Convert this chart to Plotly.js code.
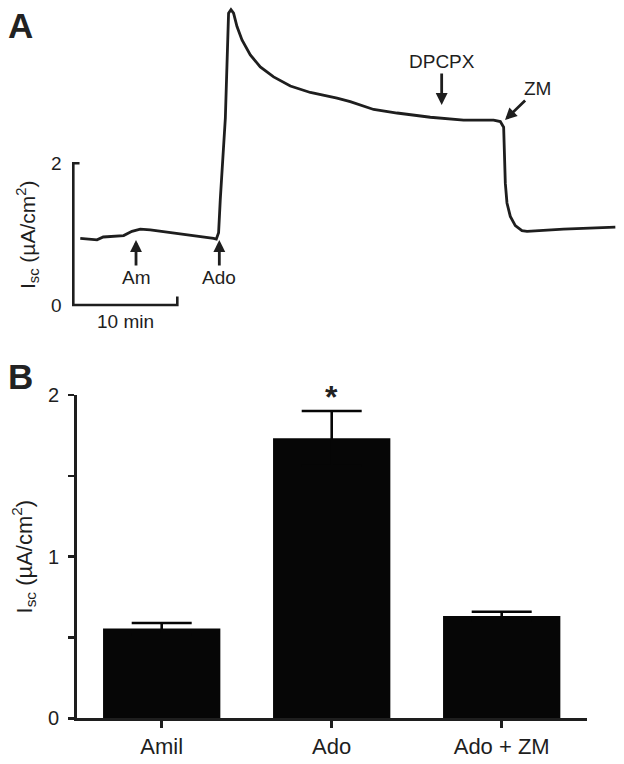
<!DOCTYPE html>
<html>
<head>
<meta charset="utf-8">
<script src="https://cdn.plot.ly/plotly-3.0.1.min.js"></script>
<style>
  html, body { margin: 0; padding: 0; background: #ffffff; }
  #chart { width: 624px; height: 764px; }
</style>
</head>
<body>
<div id="chart"></div>
<script>
// Panel A: Isc trace (minutes, uA/cm2)
const traceMinutes = [0.67, 1.63, 2.28, 2.88, 4.20, 4.84, 5.64, 6.44, 7.40, 9.01, 10.61, 12.21, 13.49, 13.75,
  13.97, 14.13, 14.45, 14.62, 14.93, 15.16, 15.41, 15.74, 16.22, 17.02, 17.98, 19.26, 20.87, 22.79,
  25.36, 26.63, 28.88, 31.13, 34.33, 37.53, 40.41, 41.06, 41.38, 41.44, 41.54, 41.70, 42.02, 42.50,
  43.14, 43.63, 47.14, 52.12];
const traceCurrent = [0.94, 0.93, 0.92, 0.96, 0.97, 0.98, 1.04, 1.07, 1.06, 1.03, 1.00, 0.97, 0.94, 0.93,
  1.02, 1.48, 2.19, 2.64, 4.12, 4.17, 4.12, 3.93, 3.74, 3.53, 3.36, 3.22, 3.09, 3.00,
  2.92, 2.87, 2.76, 2.71, 2.65, 2.61, 2.61, 2.59, 2.51, 2.19, 1.72, 1.44, 1.25, 1.12,
  1.05, 1.04, 1.07, 1.10];

// scale bar of panel A
const scaleMinutes = 10;
const scaleCurrent = 2;

// drug additions: label, time, current at arrow tip
const drugLabels = ['Am', 'Ado', 'DPCPX', 'ZM'];
const drugMinutes = [6.03, 14.04, 35.42, 41.51];
const drugCurrent = [0.917, 0.917, 2.823, 2.611];

// Panel B: mean Isc and SEM
const groups = ['Amil', 'Ado', 'Ado + ZM'];
const meanIsc = [0.555, 1.732, 0.633];
const semIsc = [0.035, 0.169, 0.026];

const W = 624, H = 764;
const px = x => x / W;
const py = y => 1 - y / H;

const ink = '#1e1e1e';
const barInk = '#060606';
const font = { family: '"Liberation Sans", Arial, sans-serif', color: ink };

const traces = [
  {
    x: traceMinutes, y: traceCurrent,
    xaxis: 'x', yaxis: 'y',
    type: 'scatter', mode: 'lines',
    line: { color: ink, width: 2.8 },
    hoverinfo: 'skip',
  },
  {
    // scale bar: small tick, vertical 2 uA/cm2, horizontal 10 min, small tick
    x: [scaleMinutes * 0.06, 0, 0, scaleMinutes, scaleMinutes],
    y: [scaleCurrent, scaleCurrent, 0, 0, scaleCurrent * 0.06],
    xaxis: 'x', yaxis: 'y',
    type: 'scatter', mode: 'lines',
    line: { color: ink, width: 2.6 },
    hoverinfo: 'skip',
  },
  {
    x: groups, y: meanIsc,
    xaxis: 'x2', yaxis: 'y2',
    type: 'bar',
    marker: { color: barInk, line: { width: 0 } },
    error_y: { type: 'data', array: semIsc, visible: true, color: barInk, thickness: 2.6, width: 30 },
    hoverinfo: 'skip',
  },
];

const paperNote = (text, x, y, size, extra) => Object.assign({
  text: text, xref: 'paper', yref: 'paper', x: px(x), y: py(y),
  xanchor: 'center', yanchor: 'middle', showarrow: false,
  font: { ...font, size: size },
}, extra || {});

const annotations = [
  paperNote('<b>A</b>', 20.5, 25.5, 35, { font: { ...font, size: 35, color: '#222' } }),
  paperNote('<b>B</b>', 20.5, 376, 35, { font: { ...font, size: 35, color: '#222' } }),
  paperNote('I<sub>sc</sub> (µA/cm<sup>2</sup>)', 27, 235, 21, { textangle: -90 }),
  { text: String(scaleCurrent), xref: 'x', yref: 'y', x: 0, y: scaleCurrent,
    xanchor: 'right', yanchor: 'middle', xshift: -9,
    showarrow: false, font: { ...font, size: 19 } },
  { text: '0', xref: 'x', yref: 'y', x: 0, y: 0, xanchor: 'right', yanchor: 'middle', xshift: -9,
    showarrow: false, font: { ...font, size: 19 } },
  { text: scaleMinutes + ' min', xref: 'x', yref: 'y', x: scaleMinutes / 2, y: 0,
    xanchor: 'center', yanchor: 'middle', yshift: -16,
    showarrow: false, font: { ...font, size: 19 } },
  { text: '<b>*</b>', xref: 'x2', yref: 'y2', x: groups[1], y: meanIsc[1] + semIsc[1],
    xanchor: 'center', yanchor: 'bottom', yshift: -6,
    showarrow: false, font: { ...font, size: 32, color: '#222' } },
];

const arrowOffsets = [[0, 37.5], [0, 37.5], [0, -43.5], [32.5, -31.5]];
drugLabels.forEach((label, i) => {
  annotations.push({
    text: label, xref: 'x', yref: 'y', x: drugMinutes[i], y: drugCurrent[i],
    ax: arrowOffsets[i][0], ay: arrowOffsets[i][1],
    showarrow: true, arrowhead: 2, arrowsize: 0.85, arrowwidth: 2.8, arrowcolor: ink,
    font: { ...font, size: 19 },
  });
});

const layout = {
  width: W, height: H,
  margin: { l: 0, r: 0, t: 0, b: 0 },
  paper_bgcolor: '#ffffff',
  plot_bgcolor: 'rgba(0,0,0,0)',
  showlegend: false,
  font: font,
  bargap: 0.31,
  xaxis: {
    domain: [px(62), px(622)], range: [-1.087, 52.76],
    visible: false, fixedrange: true,
  },
  yaxis: {
    domain: [py(315), py(0)], range: [-0.141, 4.305],
    visible: false, fixedrange: true,
  },
  xaxis2: {
    domain: [px(76.7), px(586.7)], range: [-0.5, 2.5],
    anchor: 'y2',
    showline: true, linecolor: ink, linewidth: 2.5,
    ticks: 'outside', ticklen: 7, tickwidth: 2.5, tickcolor: ink,
    showgrid: false, zeroline: false,
    tickfont: { ...font, size: 22 },
  },
  yaxis2: {
    domain: [py(718.3), py(395)], range: [0, 2],
    anchor: 'x2',
    showline: true, linecolor: ink, linewidth: 2.5,
    ticks: 'outside', ticklen: 6, tickwidth: 2.5, tickcolor: ink,
    tickvals: [0, 0.5, 1, 1.5, 2], ticktext: ['0', '', '1', '', '2'],
    ticklabelstandoff: 5,
    showgrid: false, zeroline: false,
    tickfont: { ...font, size: 20 },
    title: { text: 'I<sub>sc</sub> (µA/cm<sup>2</sup>)', font: { ...font, size: 22 }, standoff: 10 },
  },
  annotations: annotations,
};

Plotly.newPlot('chart', traces, layout, { displayModeBar: false, staticPlot: true });
</script>
</body>
</html>
